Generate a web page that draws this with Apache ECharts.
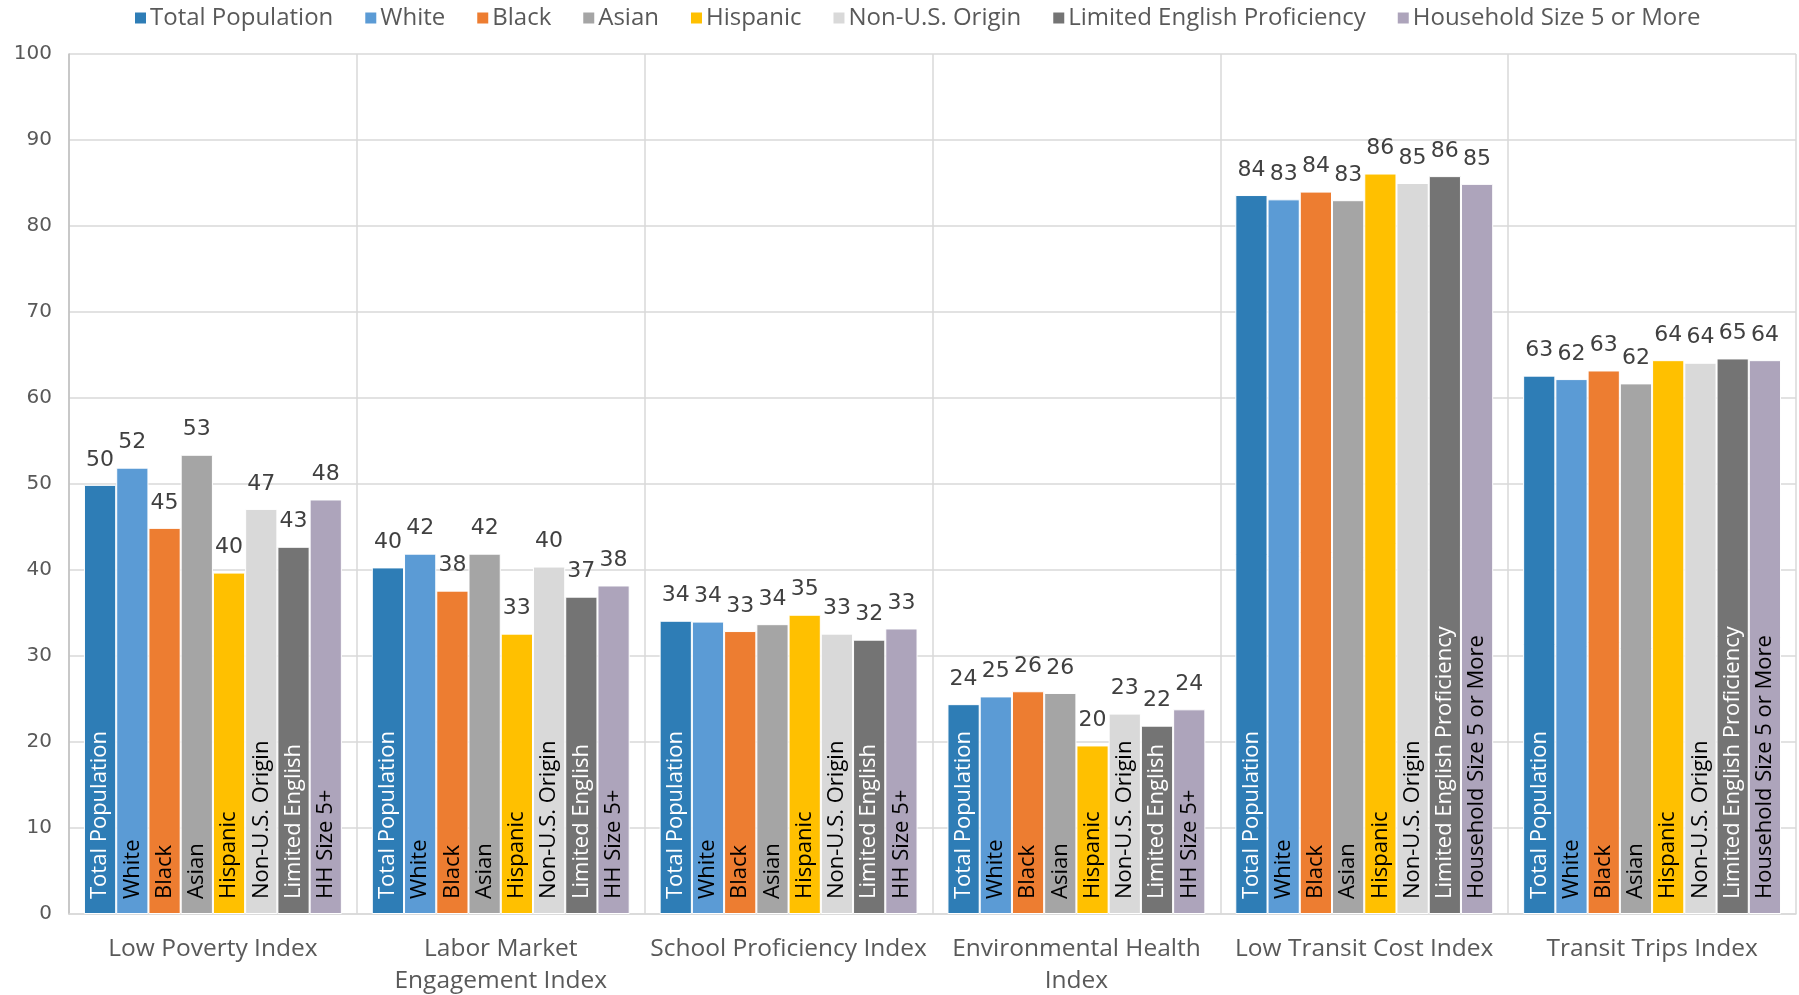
<!DOCTYPE html>
<html>
<head>
<meta charset="utf-8">
<style>
  html, body { margin: 0; padding: 0; background: #ffffff; }
  #chart { width: 1799px; height: 995px; }
</style>
<script src="https://cdn.jsdelivr.net/npm/echarts@6/dist/echarts.min.js"></script>
</head>
<body>
<div id="chart"></div>
<script>
// Opportunity index categories
const categories = [
  'Low Poverty Index',
  'Labor Market\nEngagement Index',
  'School Proficiency Index',
  'Environmental Health\nIndex',
  'Low Transit Cost Index',
  'Transit Trips Index'
];

// Population groups (legend names) and the shorter names written inside narrow-index bars
const seriesNames = ['Total Population', 'White', 'Black', 'Asian', 'Hispanic',
  'Non-U.S. Origin', 'Limited English Proficiency', 'Household Size 5 or More'];
const shortNames = ['Total Population', 'White', 'Black', 'Asian', 'Hispanic',
  'Non-U.S. Origin', 'Limited English', 'HH Size 5+'];
// Which categories use the short names inside the bars
const useShortNames = [true, true, true, true, false, false];

// Index values per group, in category order
const totalPopulation = [49.9, 40.3, 34.1, 24.4, 83.6, 62.6];
const white           = [51.9, 41.9, 34.0, 25.3, 83.1, 62.2];
const black           = [44.9, 37.6, 32.9, 25.9, 84.0, 63.2];
const asian           = [53.4, 41.9, 33.7, 25.7, 83.0, 61.7];
const hispanic        = [39.7, 32.6, 34.8, 19.6, 86.1, 64.4];
const nonUSOrigin     = [47.1, 40.4, 32.6, 23.3, 85.0, 64.1];
const limitedEnglish  = [42.7, 36.9, 31.9, 21.9, 85.8, 64.6];
const householdSize5  = [48.2, 38.2, 33.2, 23.8, 84.9, 64.4];

// Y axis ticks
const yTicks = { min: 0, max: 100, interval: 10 };

const seriesValues = [totalPopulation, white, black, asian, hispanic,
  nonUSOrigin, limitedEnglish, householdSize5];

const colors = ['#2E7DB6', '#5B9BD5', '#ED7D31', '#A5A5A5', '#FFC000',
  '#D9D9D9', '#747474', '#ADA4BB'];
const innerTextColors = ['#ffffff', '#000000', '#000000', '#000000', '#000000',
  '#000000', '#ffffff', '#000000'];

const FONT = '"Open Sans", "Noto Sans", sans-serif';
const NUM_FONT = '"DejaVu Sans", sans-serif';
const GAP = '10.4%';

const series = [];

// Visible bars with their values above
seriesValues.forEach((vals, i) => {
  series.push({
    name: seriesNames[i],
    type: 'bar',
    xAxisIndex: 0,
    data: vals,
    barGap: '0%',
    barCategoryGap: GAP,
    itemStyle: { color: colors[i], borderColor: '#ffffff', borderWidth: 1 },
    label: {
      show: true,
      position: 'top',
      distance: 14,
      fontFamily: NUM_FONT,
      fontSize: 22,
      color: '#404040',
      formatter: p => Math.round(p.value)
    }
  });
});

// Same bars, laid out on a twin axis, carrying the group name written up the bar
seriesValues.forEach((vals, i) => {
  series.push({
    name: seriesNames[i],
    type: 'bar',
    xAxisIndex: 1,
    data: vals,
    barGap: '0%',
    barCategoryGap: GAP,
    silent: true,
    itemStyle: { color: 'rgba(0,0,0,0)' },
    label: {
      show: true,
      position: 'insideBottom',
      distance: 15,
      rotate: 90,
      align: 'left',
      verticalAlign: 'middle',
      fontFamily: FONT,
      fontSize: 22,
      color: innerTextColors[i],
      formatter: p => (useShortNames[p.dataIndex] ? shortNames[i] : seriesNames[i])
    }
  });
});

const chart = echarts.init(document.getElementById('chart'));
chart.setOption({
  animation: false,
  textStyle: { fontFamily: FONT },
  legend: {
    data: seriesNames,
    top: 1,
    left: 128,
    icon: 'rect',
    itemWidth: 13,
    itemHeight: 13,
    itemGap: 30,
    textStyle: { fontFamily: FONT, fontSize: 24, color: '#595959', padding: [0, 0, 0, -2] }
  },
  grid: { left: 69, right: 3, top: 54, bottom: 81, outerBoundsMode: 'none' },
  xAxis: [
    {
      type: 'category',
      data: categories,
      axisTick: { show: false },
      axisLine: { show: true, lineStyle: { color: '#D9D9D9', width: 1.5 } },
      splitLine: { show: true, lineStyle: { color: '#D9D9D9', width: 1.5 } },
      axisLabel: {
        interval: 0,
        margin: 19,
        fontFamily: FONT,
        fontSize: 24.5,
        lineHeight: 32,
        color: '#595959'
      }
    },
    {
      type: 'category',
      data: categories,
      show: false,
      position: 'bottom'
    }
  ],
  yAxis: {
    type: 'value',
    min: yTicks.min,
    max: yTicks.max,
    interval: yTicks.interval,
    axisLine: { show: true, lineStyle: { color: '#BFBFBF', width: 1.5 } },
    axisTick: { show: false },
    splitLine: { show: true, lineStyle: { color: '#D9D9D9', width: 1.5 } },
    axisLabel: { margin: 17, fontFamily: NUM_FONT, fontSize: 20, color: '#595959' }
  },
  series: series
});
</script>
</body>
</html>
